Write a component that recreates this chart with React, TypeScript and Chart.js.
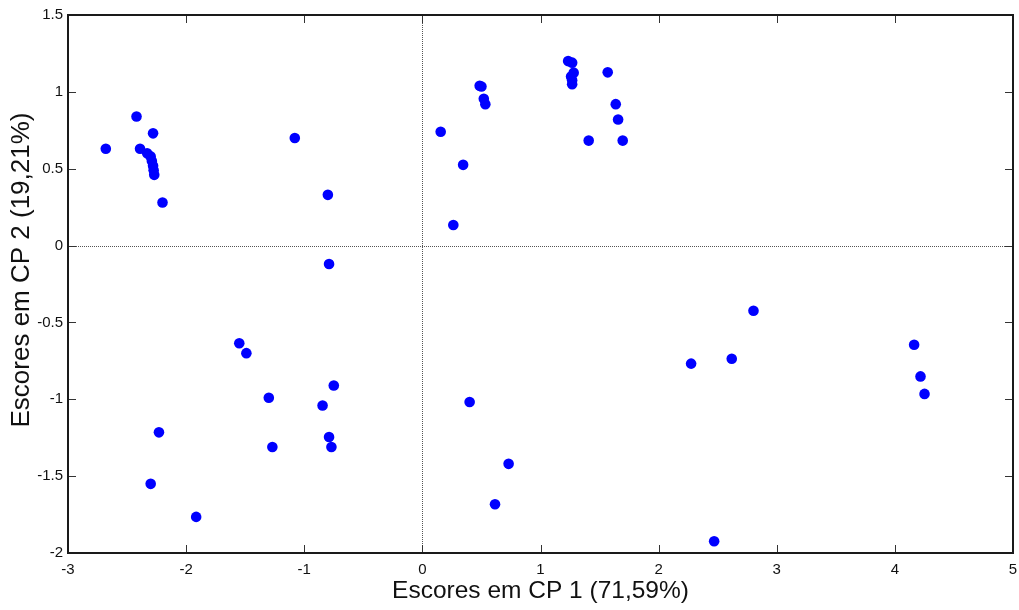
import React, { useEffect, useRef } from "react";
import { Chart, registerables } from "chart.js";

Chart.register(...registerables);

// Sample scores on the first two principal components
const scoresCP1 = [
  -2.42, -2.28, -2.68, -2.39, -2.33, -2.3, -2.29, -2.28, -2.275, -2.27, -2.2,
  -1.08, -0.8, -0.79, -2.23, -2.3, -1.915, -1.55, -1.49, -0.75, -1.3, -0.845,
  -0.79, -1.27, -0.77,
  0.155, 0.345, 0.262, 0.485, 0.5, 0.52, 0.533, 1.234, 1.268, 1.281, 1.259,
  1.268, 1.268, 1.569, 1.637, 1.657, 1.408, 1.696,
  0.4, 0.73, 0.615, 2.275, 2.619, 2.803, 2.47, 4.163, 4.217, 4.251,
];
const scoresCP2 = [
  0.84, 0.73, 0.63, 0.63, 0.6, 0.58, 0.55, 0.52, 0.49, 0.46, 0.28,
  0.7, 0.33, -0.12, -1.215, -1.55, -1.765, -0.635, -0.7, -0.91, -0.99, -1.04,
  -1.245, -1.31, -1.31,
  0.74, 0.525, 0.134, 1.04, 1.035, 0.955, 0.92, 1.2, 1.19, 1.125, 1.1,
  1.075, 1.05, 1.127, 0.92, 0.82, 0.683, 0.683,
  -1.018, -1.42, -1.683, -0.768, -0.736, -0.424, -1.924, -0.645, -0.851, -0.965,
];

const xTicks = [-3, -2, -1, 0, 1, 2, 3, 4, 5];
const yTicks = [-2, -1.5, -1, -0.5, 0, 0.5, 1, 1.5];
const xTitle = "Escores em CP 1 (71,59%)";
const yTitle = "Escores em CP 2 (19,21%)";

const FONT = "'Liberation Sans', Arial, sans-serif";

// Dotted origin lines, the boxed frame, inward tick marks on all four sides
// and the two axis titles
const framePlugin = {
  id: "frame",
  beforeDatasetsDraw(chart: any) {
    const { ctx, chartArea, scales } = chart;
    const { left, right, top, bottom } = chartArea;
    ctx.save();
    ctx.strokeStyle = "#555";
    ctx.lineWidth = 1;
    ctx.setLineDash([1, 1]);
    const x0 = Math.round(scales.x.getPixelForValue(0)) + 0.5;
    const y0 = Math.round(scales.y.getPixelForValue(0)) + 0.5;
    ctx.beginPath();
    ctx.moveTo(x0, top);
    ctx.lineTo(x0, bottom);
    ctx.moveTo(left, y0);
    ctx.lineTo(right, y0);
    ctx.stroke();
    ctx.restore();
  },
  afterDraw(chart: any) {
    const { ctx, chartArea, scales } = chart;
    const { left, right, top, bottom } = chartArea;
    const len = 8;
    ctx.save();
    ctx.strokeStyle = "#333";
    ctx.lineWidth = 1;
    ctx.beginPath();
    xTicks.forEach((v) => {
      const px = Math.round(scales.x.getPixelForValue(v)) + 0.5;
      ctx.moveTo(px, bottom);
      ctx.lineTo(px, bottom - len);
      ctx.moveTo(px, top);
      ctx.lineTo(px, top + len);
    });
    yTicks.forEach((v) => {
      const py = Math.round(scales.y.getPixelForValue(v)) + 0.5;
      ctx.moveTo(left, py);
      ctx.lineTo(left + len, py);
      ctx.moveTo(right, py);
      ctx.lineTo(right - len, py);
    });
    ctx.stroke();
    ctx.strokeStyle = "#1a1a1a";
    ctx.lineWidth = 2;
    ctx.strokeRect(left, top, right - left, bottom - top);

    // axis titles
    ctx.fillStyle = "#111";
    ctx.textAlign = "center";
    ctx.textBaseline = "middle";
    ctx.font = `24.5px ${FONT}`;
    ctx.fillText(xTitle, (left + right) / 2, 591);
    ctx.translate(22, 270);
    ctx.rotate(-Math.PI / 2);
    ctx.font = `26px ${FONT}`;
    ctx.fillText(yTitle, 0, 0);
    ctx.restore();
  },
};

export default function App() {
  const canvasRef = useRef<HTMLCanvasElement | null>(null);

  useEffect(() => {
    const canvas = canvasRef.current;
    if (!canvas) return;
    const points = scoresCP1.map((x, i) => ({ x, y: scoresCP2[i] }));
    const chart = new Chart(canvas, {
      type: "scatter",
      data: {
        datasets: [
          {
            data: points,
            backgroundColor: "#0000ff",
            borderWidth: 0,
            pointRadius: 5.3,
            pointHoverRadius: 5.3,
          },
        ],
      },
      options: {
        animation: false,
        responsive: false,
        events: [],
        layout: { padding: { top: 15, right: 6, left: 0, bottom: 0 } },
        plugins: {
          legend: { display: false },
          tooltip: { enabled: false },
        },
        scales: {
          x: {
            type: "linear",
            min: -3,
            max: 5,
            afterBuildTicks: (s: any) => {
              s.ticks = xTicks.map((value) => ({ value }));
            },
            afterFit: (s: any) => {
              s.height = 57;
              s.paddingLeft = 0;
              s.paddingRight = 0;
            },
            grid: { display: false, drawTicks: false },
            border: { display: false },
            ticks: {
              padding: 8,
              color: "#111",
              font: { family: FONT, size: 15 },
              callback: (v: any) => String(v),
              maxRotation: 0,
            },
          },
          y: {
            type: "linear",
            min: -2,
            max: 1.5,
            afterBuildTicks: (s: any) => {
              s.ticks = yTicks.map((value) => ({ value }));
            },
            afterFit: (s: any) => {
              s.width = 68;
              s.paddingTop = 0;
              s.paddingBottom = 0;
            },
            grid: { display: false, drawTicks: false },
            border: { display: false },
            ticks: {
              padding: 5,
              color: "#111",
              font: { family: FONT, size: 15 },
              callback: (v: any) => String(v),
            },
          },
        },
      },
      plugins: [framePlugin],
    });
    return () => chart.destroy();
  }, []);

  return (
    <div style={{ position: "fixed", left: 0, top: 0, width: 1019, height: 610, background: "#fff" }}>
      <canvas ref={canvasRef} width={1019} height={610} style={{ display: "block" }} />
    </div>
  );
}
